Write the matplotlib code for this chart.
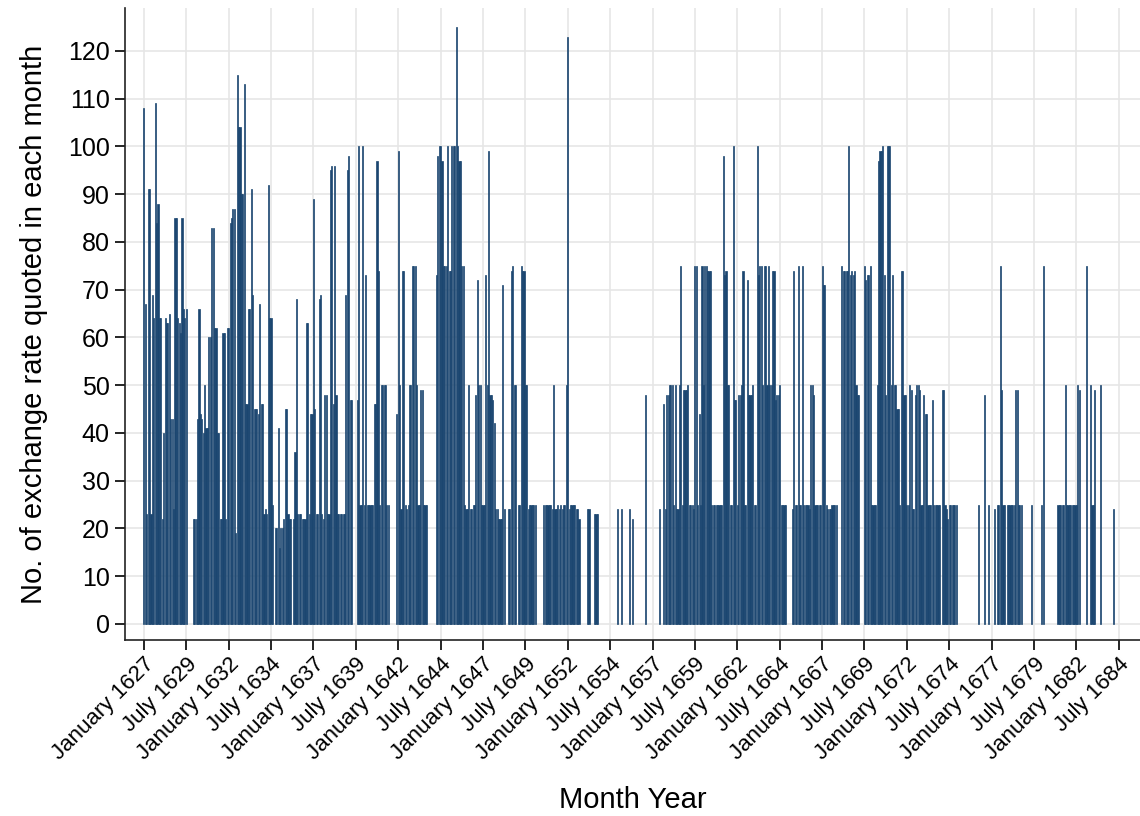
import matplotlib
matplotlib.use("Agg")
import matplotlib.pyplot as plt
import numpy as np

# Monthly number of exchange-rate quotes, January 1627 .. July 1684 (0 = no quote)
counts_1627_1636 = [
    108, 67, 23, 91, 91, 23, 69, 64, 109, 84, 88, 64,   # 1627
    64, 22, 40, 64, 63, 63, 65, 43, 43, 24, 85, 85,     # 1628
    64, 63, 61, 85, 66, 64, 66, 0, 0, 0, 0, 22,         # 1629
    22, 22, 43, 66, 44, 43, 40, 50, 41, 41, 60, 60,     # 1630
    83, 83, 62, 62, 40, 40, 22, 22, 61, 61, 22, 62,     # 1631
    62, 84, 85, 87, 87, 19, 115, 104, 104, 90, 90, 113, # 1632
    46, 46, 66, 66, 91, 69, 45, 45, 45, 44, 67, 46,     # 1633
    46, 23, 24, 23, 92, 64, 64, 25, 0, 20, 20, 41,      # 1634
    16, 20, 20, 22, 45, 45, 23, 22, 22, 0, 22, 36,      # 1635
    68, 23, 23, 23, 22, 22, 22, 63, 63, 23, 44, 44,     # 1636
]
counts_1637_1646 = [
    89, 45, 23, 23, 68, 69, 23, 22, 48, 48, 23, 23,     # 1637
    95, 96, 46, 96, 48, 23, 23, 23, 23, 23, 23, 69,     # 1638
    95, 98, 47, 47, 0, 0, 0, 47, 100, 25, 25, 100,      # 1639
    25, 73, 25, 25, 25, 25, 25, 46, 46, 97, 74, 25,     # 1640
    50, 50, 50, 50, 25, 25, 0, 0, 0, 0, 0, 44,          # 1641
    99, 50, 24, 74, 74, 25, 24, 25, 50, 50, 75, 75,     # 1642
    75, 50, 25, 25, 49, 49, 25, 25, 25, 0, 0, 0,        # 1643
    0, 0, 0, 73, 98, 100, 100, 97, 75, 75, 75, 100,     # 1644
    74, 74, 100, 100, 100, 125, 100, 97, 97, 75, 75, 25,  # 1645
    24, 24, 50, 24, 24, 25, 25, 48, 72, 50, 50, 25,     # 1646
]
counts_1647_1656 = [
    25, 25, 73, 50, 99, 48, 48, 47, 42, 24, 24, 22,     # 1647
    22, 22, 71, 24, 0, 0, 24, 24, 74, 75, 50, 50,       # 1648
    0, 25, 25, 75, 74, 74, 50, 50, 24, 25, 25, 25,      # 1649
    25, 25, 0, 0, 0, 0, 0, 25, 25, 25, 25, 25,          # 1650
    25, 24, 50, 24, 24, 25, 24, 25, 24, 25, 25, 50,     # 1651
    123, 24, 25, 25, 25, 25, 24, 24, 22, 0, 0, 0,       # 1652
    0, 0, 24, 24, 0, 0, 0, 23, 23, 23, 0, 0,            # 1653
    0, 0, 0, 0, 0, 0, 0, 0, 0, 0, 0, 24,                # 1654
    0, 0, 24, 0, 0, 0, 0, 0, 24, 0, 22, 0,              # 1655
    0, 0, 0, 0, 0, 0, 0, 48, 0, 0, 0, 0,                # 1656
]
counts_1657_1666 = [
    0, 0, 0, 0, 0, 24, 0, 0, 46, 24, 48, 48,            # 1657
    50, 50, 50, 25, 50, 24, 24, 50, 75, 25, 49, 49,     # 1658
    49, 50, 25, 25, 25, 24, 75, 75, 25, 44, 25, 75,     # 1659
    50, 75, 75, 74, 74, 74, 25, 25, 25, 25, 25, 25,     # 1660
    25, 25, 98, 73, 74, 50, 50, 25, 25, 100, 47, 47,    # 1661
    25, 48, 48, 50, 74, 25, 25, 72, 48, 48, 48, 50,     # 1662
    25, 25, 100, 73, 75, 75, 50, 75, 75, 50, 75, 50,    # 1663
    50, 74, 74, 47, 48, 48, 50, 25, 25, 25, 25, 0,      # 1664
    0, 0, 0, 24, 74, 25, 25, 75, 25, 25, 75, 25,        # 1665
    25, 25, 25, 24, 50, 50, 48, 25, 25, 25, 25, 25,     # 1666
]
counts_1667_1676 = [
    75, 71, 71, 25, 24, 24, 24, 25, 25, 25, 25, 0,      # 1667
    0, 0, 75, 74, 74, 74, 74, 100, 73, 74, 73, 74,      # 1668
    50, 48, 48, 0, 0, 0, 75, 72, 73, 73, 75, 25,        # 1669
    25, 25, 25, 50, 97, 99, 99, 100, 73, 48, 100, 100,  # 1670
    100, 50, 73, 50, 50, 45, 45, 25, 74, 74, 48, 48,    # 1671
    25, 25, 50, 49, 24, 24, 48, 50, 50, 49, 25, 25,     # 1672
    48, 44, 44, 25, 25, 25, 47, 25, 25, 25, 25, 25,     # 1673
    0, 49, 49, 25, 24, 22, 25, 25, 25, 25, 25, 25,      # 1674
    0, 0, 0, 0, 0, 0, 0, 0, 0, 0, 0, 0,                 # 1675
    0, 0, 0, 25, 0, 0, 0, 48, 0, 0, 25, 0,              # 1676
]
counts_1677_1684 = [
    0, 0, 24, 0, 25, 25, 75, 49, 25, 25, 0, 25,         # 1677
    25, 25, 25, 25, 25, 49, 49, 25, 25, 25, 0, 0,       # 1678
    0, 0, 0, 0, 25, 0, 0, 0, 0, 0, 0, 25,               # 1679
    0, 75, 0, 0, 0, 0, 0, 0, 0, 0, 0, 25,               # 1680
    25, 25, 25, 25, 50, 25, 25, 25, 25, 25, 25, 25,     # 1681
    25, 50, 49, 0, 0, 0, 0, 75, 0, 0, 50, 25,           # 1682
    25, 49, 0, 0, 0, 50, 0, 0, 0, 0, 0, 0,              # 1683
    0, 0, 24, 0, 0, 0, 0,                               # 1684 (Jan-Jul)
]

tick_labels = [
    "January 1627", "July 1629", "January 1632", "July 1634", "January 1637",
    "July 1639", "January 1642", "July 1644", "January 1647", "July 1649",
    "January 1652", "July 1654", "January 1657", "July 1659", "January 1662",
    "July 1664", "January 1667", "July 1669", "January 1672", "July 1674",
    "January 1677", "July 1679", "January 1682", "July 1684",
]

BAR_COLOR = "#1b4670"
GRID_COLOR = "#e6e6e6"

counts = np.array(
    counts_1627_1636 + counts_1637_1646 + counts_1647_1656
    + counts_1657_1666 + counts_1667_1676 + counts_1677_1684,
    dtype=float,
)
months = np.arange(len(counts))  # 0 = January 1627
has_quote = counts > 0

plt.rcParams["font.family"] = ["Liberation Sans", "DejaVu Sans"]

fig = plt.figure(figsize=(11.4, 8.16), dpi=100)
ax = fig.add_axes([0.1096, 0.2157, 0.8904, 0.7745])

# months without quotes get no bar at all
ax.bar(months[has_quote], counts[has_quote], width=0.8, color=BAR_COLOR,
       edgecolor=BAR_COLOR, linewidth=0.5, zorder=3)

ax.set_xlim(-13.4, 705)
ax.set_ylim(-3.35, 129)

ax.set_yticks(np.arange(0, 121, 10))
ax.set_xticks(np.arange(0, 30 * len(tick_labels), 30))
ax.set_xticklabels(tick_labels, rotation=45, ha="right", rotation_mode="anchor")

ax.grid(True, color=GRID_COLOR, linewidth=1.2, zorder=0)
ax.set_axisbelow(True)

for side in ("top", "right"):
    ax.spines[side].set_visible(False)
for side in ("left", "bottom"):
    ax.spines[side].set_color("#222222")
    ax.spines[side].set_linewidth(1.2)

ax.tick_params(axis="y", labelsize=18, length=7, width=1.2, pad=4)
ax.tick_params(axis="x", labelsize=16, length=7, width=1.2, pad=3)

ax.set_ylabel("No. of exchange rate quoted in each month", fontsize=21, labelpad=14)
ax.set_xlabel("Month Year", fontsize=21, labelpad=16)

fig.savefig("out.png", dpi=100, facecolor="white")
